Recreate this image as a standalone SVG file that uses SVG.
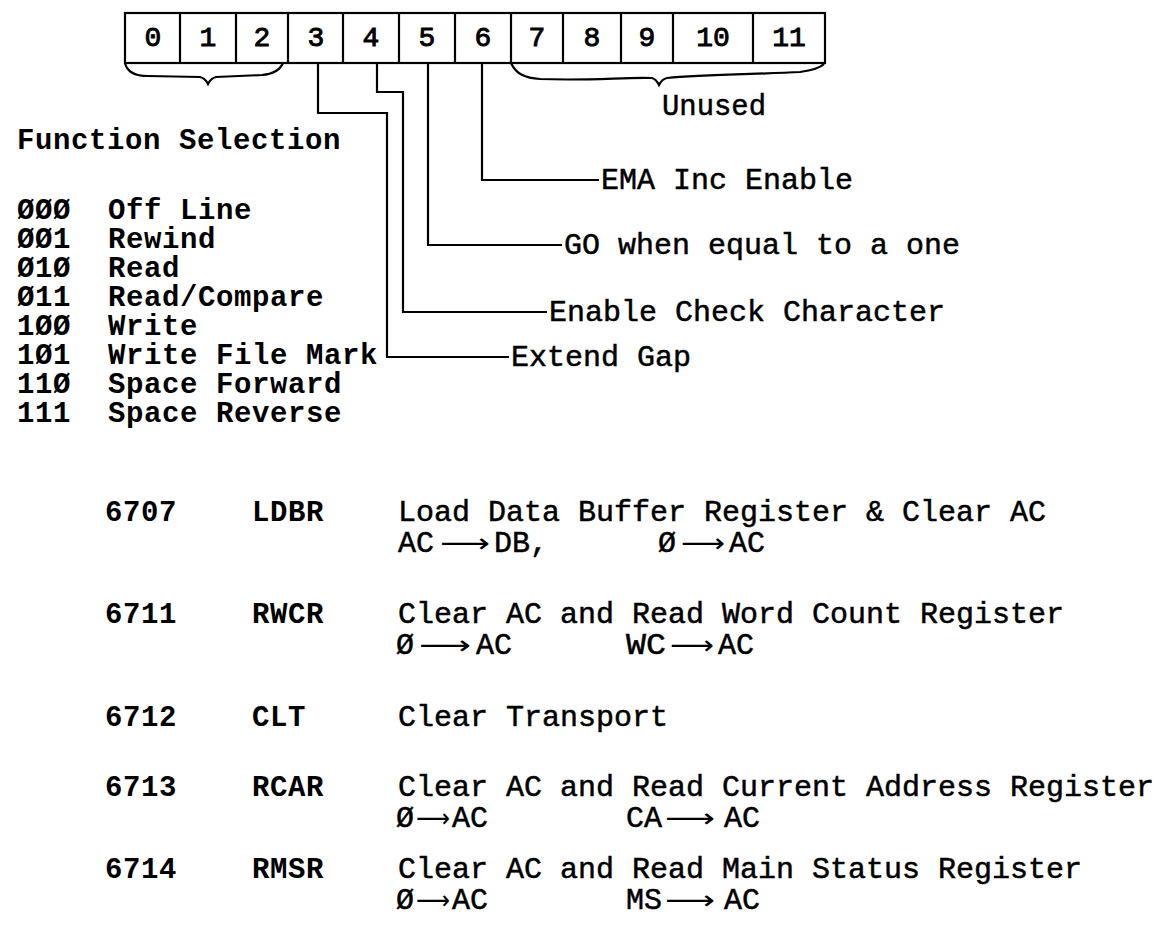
<svg xmlns="http://www.w3.org/2000/svg" width="1170" height="946" viewBox="0 0 1170 946">
<style>
.bg{fill:#fff}
.ln{fill:none;stroke:#000;stroke-width:2.2;stroke-linejoin:miter}
.box{fill:#fff;stroke:#000;stroke-width:2.2}
.dig{font-family:"Liberation Mono","DejaVu Sans Mono",monospace;font-size:28px;fill:#000;stroke:#000;stroke-width:0.9;text-anchor:middle}
.tw{font-family:"Liberation Mono","DejaVu Sans Mono",monospace;font-size:29px;font-weight:bold;letter-spacing:0.6px;fill:#000}
.cd{font-family:"Liberation Mono","DejaVu Sans Mono",monospace;font-size:30px;fill:#000;stroke:#000;stroke-width:0.5}
.ar{font-family:"DejaVu Sans",sans-serif;font-size:26px;fill:#000}
</style>
<rect class="bg" x="0" y="0" width="1170" height="946"/>

<g id="register">
  <rect class="box" x="125" y="13" width="700" height="50"/>
  <path class="ln" d="M180,13V63M236,13V63M288,13V63M343,13V63M399,13V63M455,13V63M511,13V63M563,13V63M621,13V63M673,13V63M753,13V63"/>
  <text class="dig" x="153" y="46">0</text>
  <text class="dig" x="208" y="46">1</text>
  <text class="dig" x="262" y="46">2</text>
  <text class="dig" x="316" y="46">3</text>
  <text class="dig" x="371" y="46">4</text>
  <text class="dig" x="427" y="46">5</text>
  <text class="dig" x="483" y="46">6</text>
  <text class="dig" x="537" y="46">7</text>
  <text class="dig" x="592" y="46">8</text>
  <text class="dig" x="647" y="46">9</text>
  <text class="dig" x="713" y="46">10</text>
  <text class="dig" x="789" y="46">11</text>
</g>

<g id="brace-function">
  <path class="ln" d="M125,63C127,72 134,76 148,76L200,77Q205,78 208,84Q211,78 216,77L262,75C274,74 280,70 283,63"/>
</g>
<g id="brace-unused">
  <path class="ln" d="M511,63C516,74 525,78 540,79C590,81 625,77 652,78Q656,79 659,85Q662,79 667,78C700,75 760,74 800,72C814,70 820,68 824,64"/>
  <text class="cd" x="662" y="115" textLength="104" lengthAdjust="spacingAndGlyphs">Unused</text>
</g>

<g id="connectors">
  <path class="ln" d="M482,63V180H599"/>
  <path class="ln" d="M428,63V245H562"/>
  <path class="ln" d="M377,63V92H403V312H547"/>
  <path class="ln" d="M318,63V113H387V357H509"/>
</g>

<g id="label-ema"><text class="cd" x="601" y="189" textLength="252" lengthAdjust="spacingAndGlyphs">EMA Inc Enable</text></g>
<g id="label-go"><text class="cd" x="564" y="254" textLength="396" lengthAdjust="spacingAndGlyphs">GO when equal to a one</text></g>
<g id="label-ecc"><text class="cd" x="549" y="321" textLength="396" lengthAdjust="spacingAndGlyphs">Enable Check Character</text></g>
<g id="label-gap"><text class="cd" x="511" y="366" textLength="180" lengthAdjust="spacingAndGlyphs">Extend Gap</text></g>

<g id="function-selection">
  <text class="tw" x="17" y="149">Function Selection</text>
  <text class="tw" x="17" y="219">ØØØ</text><text class="tw" x="108" y="219">Off Line</text>
  <text class="tw" x="17" y="248">ØØ1</text><text class="tw" x="108" y="248">Rewind</text>
  <text class="tw" x="17" y="277">Ø1Ø</text><text class="tw" x="108" y="277">Read</text>
  <text class="tw" x="17" y="306">Ø11</text><text class="tw" x="108" y="306">Read/Compare</text>
  <text class="tw" x="17" y="335">1ØØ</text><text class="tw" x="108" y="335">Write</text>
  <text class="tw" x="17" y="364">1Ø1</text><text class="tw" x="108" y="364">Write File Mark</text>
  <text class="tw" x="17" y="393">11Ø</text><text class="tw" x="108" y="393">Space Forward</text>
  <text class="tw" x="17" y="422">111</text><text class="tw" x="108" y="422">Space Reverse</text>
</g>

<g id="ldbr">
  <text class="tw" x="105" y="521">6707</text>
  <text class="tw" x="252" y="521">LDBR</text>
  <text class="cd" x="398" y="521" textLength="648" lengthAdjust="spacingAndGlyphs">Load Data Buffer Register &amp; Clear AC</text>
  <text class="cd" x="398" y="552" textLength="36" lengthAdjust="spacingAndGlyphs">AC</text>
  <text class="ar" x="440" y="552" textLength="50" lengthAdjust="spacingAndGlyphs">⟶</text>
  <text class="cd" x="494" y="552" textLength="54" lengthAdjust="spacingAndGlyphs">DB,</text>
  <text class="cd" x="658" y="552" textLength="18" lengthAdjust="spacingAndGlyphs">Ø</text>
  <text class="ar" x="681" y="552" textLength="44" lengthAdjust="spacingAndGlyphs">⟶</text>
  <text class="cd" x="729" y="552" textLength="36" lengthAdjust="spacingAndGlyphs">AC</text>
</g>

<g id="rwcr">
  <text class="tw" x="105" y="623">6711</text>
  <text class="tw" x="252" y="623">RWCR</text>
  <text class="cd" x="398" y="623" textLength="666" lengthAdjust="spacingAndGlyphs">Clear AC and Read Word Count Register</text>
  <text class="cd" x="396" y="654" textLength="18" lengthAdjust="spacingAndGlyphs">Ø</text>
  <text class="ar" x="419" y="654" textLength="52" lengthAdjust="spacingAndGlyphs">⟶</text>
  <text class="cd" x="476" y="654" textLength="36" lengthAdjust="spacingAndGlyphs">AC</text>
  <text class="cd" x="626" y="654" textLength="40" lengthAdjust="spacingAndGlyphs">WC</text>
  <text class="ar" x="670" y="654" textLength="44" lengthAdjust="spacingAndGlyphs">⟶</text>
  <text class="cd" x="718" y="654" textLength="36" lengthAdjust="spacingAndGlyphs">AC</text>
</g>

<g id="clt">
  <text class="tw" x="105" y="726">6712</text>
  <text class="tw" x="252" y="726">CLT</text>
  <text class="cd" x="398" y="726" textLength="270" lengthAdjust="spacingAndGlyphs">Clear Transport</text>
</g>

<g id="rcar">
  <text class="tw" x="105" y="796">6713</text>
  <text class="tw" x="252" y="796">RCAR</text>
  <text class="cd" x="398" y="796" textLength="756" lengthAdjust="spacingAndGlyphs">Clear AC and Read Current Address Register</text>
  <text class="cd" x="396" y="827" textLength="18" lengthAdjust="spacingAndGlyphs">Ø</text>
  <text class="ar" x="416" y="827" textLength="34" lengthAdjust="spacingAndGlyphs">⟶</text>
  <text class="cd" x="452" y="827" textLength="36" lengthAdjust="spacingAndGlyphs">AC</text>
  <text class="cd" x="626" y="827" textLength="36" lengthAdjust="spacingAndGlyphs">CA</text>
  <text class="ar" x="665" y="827" textLength="50" lengthAdjust="spacingAndGlyphs">⟶</text>
  <text class="cd" x="724" y="827" textLength="36" lengthAdjust="spacingAndGlyphs">AC</text>
</g>

<g id="rmsr">
  <text class="tw" x="105" y="878">6714</text>
  <text class="tw" x="252" y="878">RMSR</text>
  <text class="cd" x="398" y="878" textLength="684" lengthAdjust="spacingAndGlyphs">Clear AC and Read Main Status Register</text>
  <text class="cd" x="396" y="909" textLength="18" lengthAdjust="spacingAndGlyphs">Ø</text>
  <text class="ar" x="416" y="909" textLength="34" lengthAdjust="spacingAndGlyphs">⟶</text>
  <text class="cd" x="452" y="909" textLength="36" lengthAdjust="spacingAndGlyphs">AC</text>
  <text class="cd" x="626" y="909" textLength="36" lengthAdjust="spacingAndGlyphs">MS</text>
  <text class="ar" x="665" y="909" textLength="50" lengthAdjust="spacingAndGlyphs">⟶</text>
  <text class="cd" x="724" y="909" textLength="36" lengthAdjust="spacingAndGlyphs">AC</text>
</g>
</svg>
